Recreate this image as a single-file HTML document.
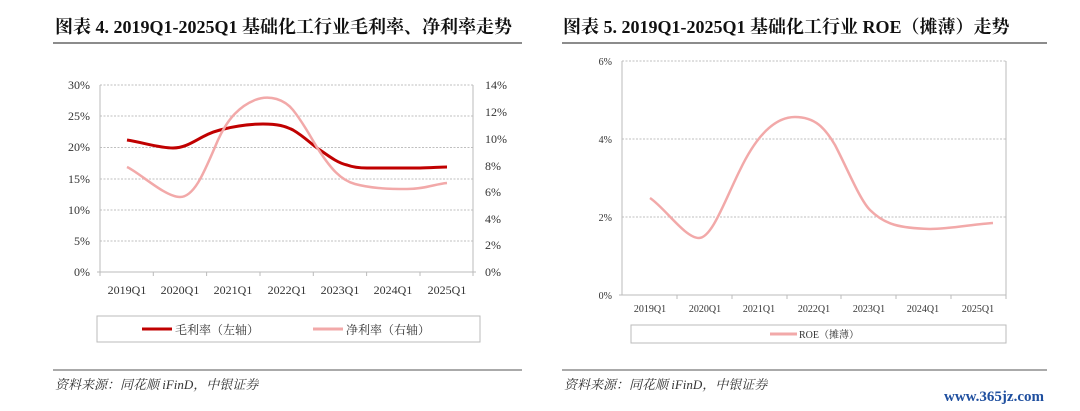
<!DOCTYPE html>
<html><head><meta charset="utf-8"><style>
body{margin:0;background:#fff;}
svg{display:block;}
</style></head><body>
<svg width="1080" height="411" viewBox="0 0 1080 411" xmlns="http://www.w3.org/2000/svg" font-family="'Liberation Serif','Noto Serif CJK SC',serif">
<!-- Left chart -->
<text x="55" y="33" font-size="18" font-weight="bold" fill="#111">图表 4. 2019Q1-2025Q1 基础化工行业毛利率、净利率走势</text>
<line x1="53" y1="43" x2="522" y2="43" stroke="#666" stroke-width="1.5"/>
<g stroke="#aaa" stroke-width="0.8" stroke-dasharray="2,1.5">
<line x1="100" y1="85" x2="473" y2="85"/><line x1="100" y1="116" x2="473" y2="116"/>
<line x1="100" y1="147.5" x2="473" y2="147.5"/><line x1="100" y1="179" x2="473" y2="179"/>
<line x1="100" y1="210" x2="473" y2="210"/><line x1="100" y1="241" x2="473" y2="241"/>
</g>
<g stroke="#bbb" stroke-width="1" fill="none">
<line x1="100" y1="85" x2="100" y2="272"/><line x1="473" y1="85" x2="473" y2="272"/>
<line x1="97" y1="272" x2="476" y2="272"/>
<path d="M153.3 272v4M206.6 272v4M260 272v4M313.3 272v4M366.6 272v4M420 272v4M473 272v4M100 272v4"/>
</g>
<g font-size="12" fill="#333" text-anchor="end">
<text x="90" y="89">30%</text><text x="90" y="120">25%</text><text x="90" y="151">20%</text>
<text x="90" y="183">15%</text><text x="90" y="214">10%</text><text x="90" y="245">5%</text><text x="90" y="276">0%</text>
</g>
<g font-size="12" fill="#333">
<text x="485" y="89">14%</text><text x="485" y="116">12%</text><text x="485" y="143">10%</text>
<text x="485" y="170">8%</text><text x="485" y="196">6%</text><text x="485" y="223">4%</text><text x="485" y="249">2%</text><text x="485" y="276">0%</text>
</g>
<g font-size="12" fill="#333" text-anchor="middle">
<text x="127" y="294">2019Q1</text><text x="180" y="294">2020Q1</text><text x="233" y="294">2021Q1</text>
<text x="287" y="294">2022Q1</text><text x="340" y="294">2023Q1</text><text x="393" y="294">2024Q1</text><text x="447" y="294">2025Q1</text>
</g>
<path d="M127 140 C145 143,160 148,173 148 C190 148,200 135,220 130 C235 126,250 124,263 124 C278 124,285 126,293 130 C305 137,312 145,320 150 C330 157,338 163,347 165 C355 168,362 168,367 168 L420 168 C430 168,440 167,447 167" fill="none" stroke="#c00000" stroke-width="3"/>
<path d="M127 167 C140 173,165 197,180 197 C195 197,205 170,218 140 C228 118,240 106,255 100 C270 94,285 100,293 110 C305 125,312 140,320 152 C330 167,340 180,355 184 C370 188,385 189,407 189 C425 189,435 184,447 183" fill="none" stroke="#f2a9a9" stroke-width="2.5"/>
<rect x="97" y="316" width="383" height="26" fill="none" stroke="#bbb" stroke-width="1"/>
<line x1="142" y1="329" x2="172" y2="329" stroke="#c00000" stroke-width="3"/>
<text x="175" y="334" font-size="12" fill="#333">毛利率（左轴）</text>
<line x1="313" y1="329" x2="343" y2="329" stroke="#f2a9a9" stroke-width="3"/>
<text x="346" y="334" font-size="12" fill="#333">净利率（右轴）</text>
<line x1="53" y1="370" x2="522" y2="370" stroke="#555" stroke-width="1"/>
<text x="55" y="389" font-size="13" font-style="italic" fill="#333">资料来源：同花顺 iFinD，中银证券</text>

<!-- Right chart -->
<text x="563" y="33" font-size="18" font-weight="bold" fill="#111">图表 5. 2019Q1-2025Q1 基础化工行业 ROE（摊薄）走势</text>
<line x1="562" y1="43" x2="1047" y2="43" stroke="#666" stroke-width="1.5"/>
<g stroke="#aaa" stroke-width="0.8" stroke-dasharray="2,1.5">
<line x1="622" y1="61" x2="1006" y2="61"/><line x1="622" y1="139" x2="1006" y2="139"/><line x1="622" y1="217" x2="1006" y2="217"/>
</g>
<g stroke="#bbb" stroke-width="1" fill="none">
<line x1="622" y1="61" x2="622" y2="295"/><line x1="1006" y1="61" x2="1006" y2="295"/>
<line x1="619" y1="295" x2="1006" y2="295"/>
<path d="M677 295v4M732 295v4M787 295v4M841 295v4M896 295v4M951 295v4M1006 295v4"/>
</g>
<g font-size="10" fill="#333" text-anchor="end">
<text x="612" y="65">6%</text><text x="612" y="143">4%</text><text x="612" y="221">2%</text><text x="612" y="299">0%</text>
</g>
<g font-size="10" fill="#333" text-anchor="middle">
<text x="650" y="312">2019Q1</text><text x="705" y="312">2020Q1</text><text x="759" y="312">2021Q1</text>
<text x="814" y="312">2022Q1</text><text x="869" y="312">2023Q1</text><text x="923" y="312">2024Q1</text><text x="978" y="312">2025Q1</text>
</g>
<path d="M650 198 C665 208,685 238,699 238 C712 238,725 200,740 170 C752 145,770 117,795 117 C815 117,825 128,835 145 C848 170,860 200,870 210 C885 225,900 228,930 229 C950 229,975 224,993 223" fill="none" stroke="#f2a9a9" stroke-width="2.5"/>
<rect x="631" y="325" width="375" height="18" fill="none" stroke="#bbb" stroke-width="1"/>
<line x1="770" y1="334" x2="797" y2="334" stroke="#f2a9a9" stroke-width="3"/>
<text x="799" y="338" font-size="10" fill="#333">ROE（摊薄）</text>
<line x1="562" y1="370" x2="1047" y2="370" stroke="#555" stroke-width="1"/>
<text x="564" y="389" font-size="13" font-style="italic" fill="#333">资料来源：同花顺 iFinD，中银证券</text>
<text x="944" y="401" font-size="15" font-weight="bold" fill="#1f4f9f">www.365jz.com</text>
</svg>
</body></html>
